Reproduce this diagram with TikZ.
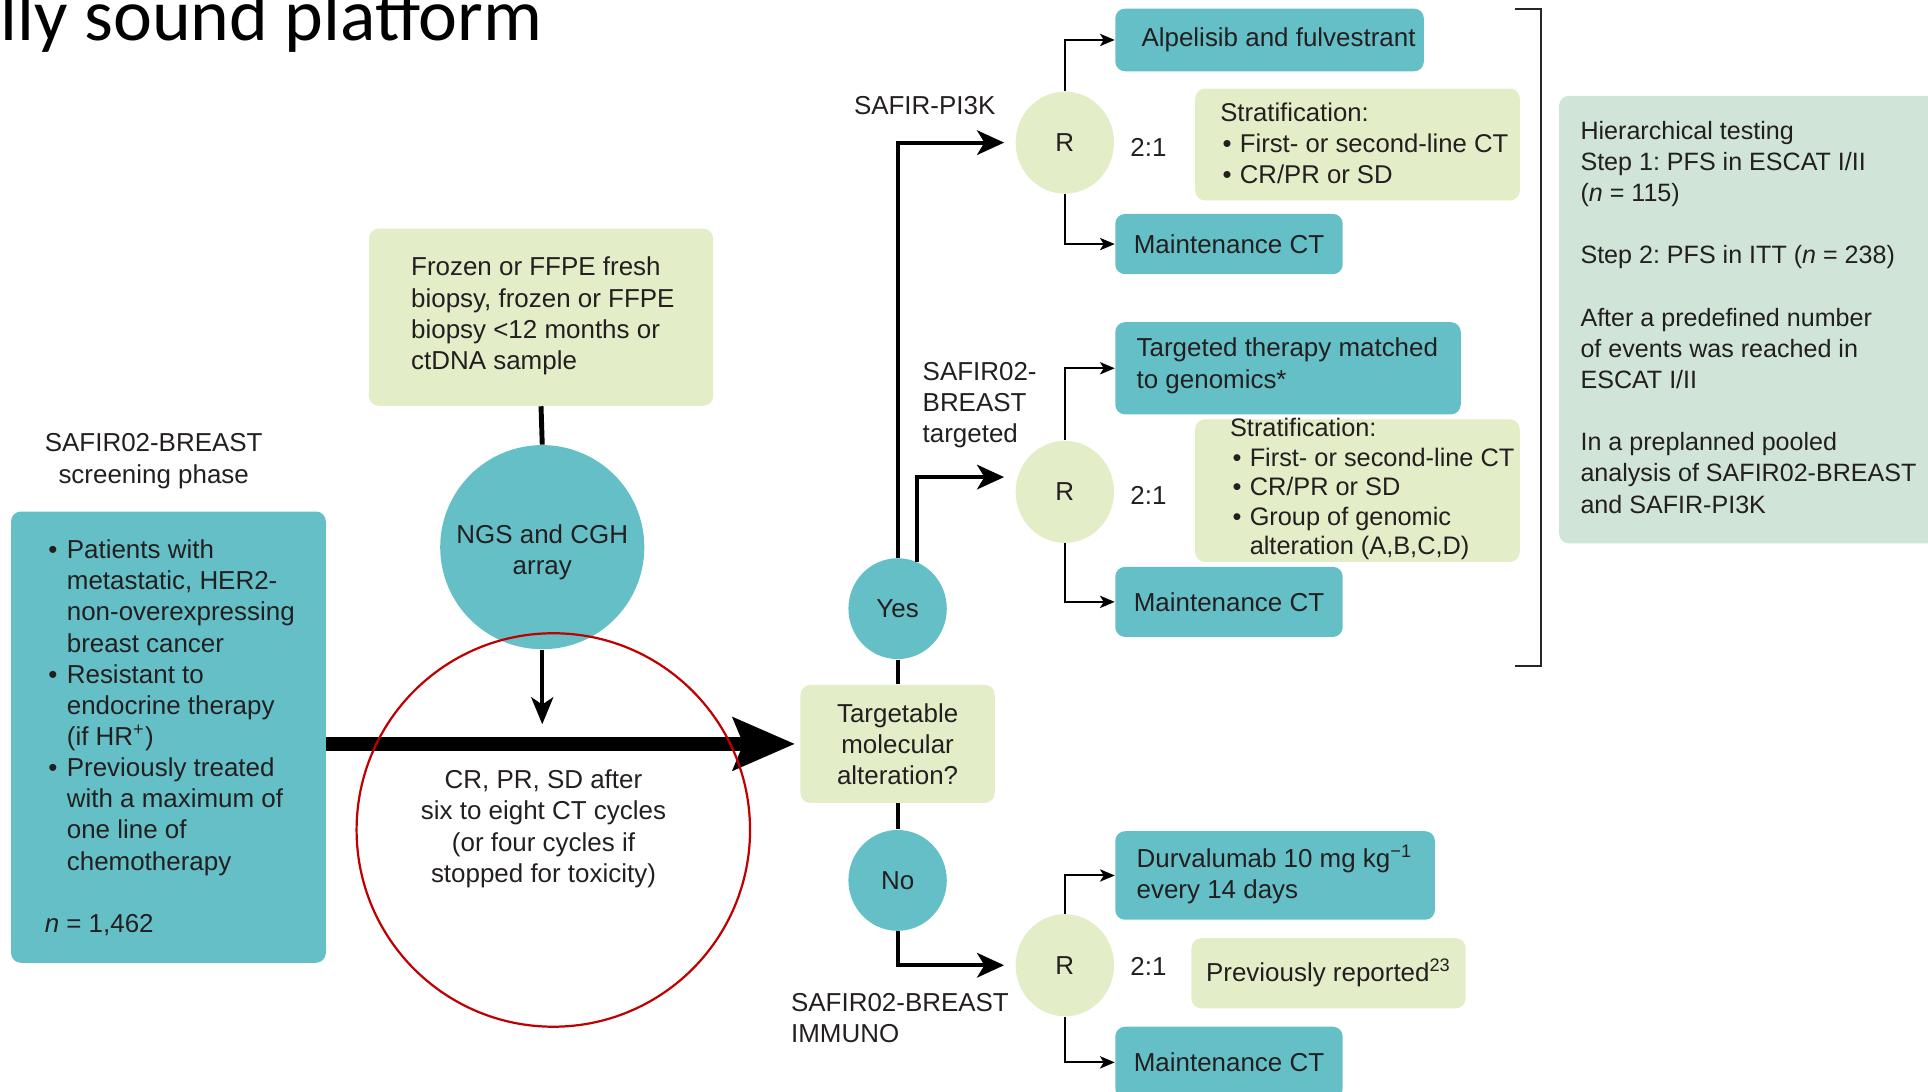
\documentclass[tikz,border=0pt]{standalone}
\usepackage{fontspec}
\setmainfont{Liberation Sans}
\newfontfamily\titlefont{Carlito}
\usetikzlibrary{arrows.meta,shapes.geometric,calc}
\definecolor{tealc}{RGB}{100,192,198}
\definecolor{palec}{RGB}{227,237,200}
\definecolor{mintc}{RGB}{208,228,215}
\definecolor{ringc}{RGB}{192,0,0}
\definecolor{ink}{RGB}{35,31,32}
\frenchspacing
\newcommand{\dfont}{\fontsize{10.55pt}{12.67pt}\selectfont}
\newcommand{\bl}{\makebox[9pt][l]{\hspace*{1.5pt}\textbullet}}
\newcommand{\sbl}{\makebox[8pt][l]{\hspace*{1pt}\textbullet}}
\newcommand{\ind}{\hspace*{9pt}}
\begin{document}
\begin{tikzpicture}[x=0.5pt,y=-0.5pt,
  tealbox/.style={fill=tealc, rounded corners=4pt, inner sep=0},
  palebox/.style={fill=palec, rounded corners=4pt, inner sep=0},
  mintbox/.style={fill=mintc, rounded corners=4pt, inner sep=0},
  tealround/.style={ellipse, fill=tealc, inner sep=0, font=\dfont, text=ink},
  rround/.style={ellipse, fill=palec, inner sep=0, minimum width=40pt, minimum height=41.5pt, font=\dfont, text=ink},
  txt/.style={inner sep=0, align=left, font=\dfont, text=ink},
  ctxt/.style={inner sep=0, align=center, font=\dfont, text=ink},
  stem/.style={line width=2pt, draw=black},
  feed/.style={line width=1.5pt, -{Stealth[length=11pt,width=9pt,inset=3pt]}},
  mainarrow/.style={line width=6pt, -{Stealth[length=25pt,width=21pt,inset=4pt]}},
  branch/.style={line width=1.6pt, -{Stealth[length=11pt,width=10pt,inset=3pt]}},
  leaf/.style={line width=0.8pt, -{Stealth[length=6pt,width=5pt,inset=1.5pt]}},
]
\useasboundingbox (0,0) rectangle (1568,888);

% title fragment (cut at the top edge, as in the reference)
\node[anchor=base west, inner sep=0, font=\titlefont\fontsize{30pt}{34pt}\selectfont] (title) at (0,33) {lly sound platform};

% screening phase
\node[ctxt] (screenlbl) at (125,375) {SAFIR02-BREAST\\screening phase};
\node[tealbox, minimum width=128pt, minimum height=183.5pt] (screen) at (137,599.5) {};
\node[txt, anchor=west] (screentxt) at (36,600) {\bl Patients with\\ \ind metastatic, HER2-\\ \ind non-overexpressing\\ \ind breast cancer\\ \bl Resistant to\\ \ind endocrine therapy\\ \ind (if HR\textsuperscript{+})\\ \bl Previously treated\\ \ind with a maximum of\\ \ind one line of\\ \ind chemotherapy\\[12.67pt] \textit{n} = 1,462};

% sample box and NGS
\node[palebox, minimum width=140pt, minimum height=72pt] (frozen) at (440,258) {};
\node[txt, anchor=west] (frozentxt) at (334,257) {Frozen or FFPE fresh\\biopsy, frozen or FFPE\\biopsy <12 months or\\ctDNA sample};
\node[circle, fill=tealc, minimum size=83pt, inner sep=0] (ngs) at (441,445) {};
\node[ctxt] (ngstxt) at (441,449.5) {NGS and CGH\\array};

% main flow
\node[palebox, minimum width=79pt, minimum height=48pt, ctxt] (targ) at (730,605) {Targetable\\molecular\\alteration?};
\node[ctxt] (crtxt) at (442,674) {CR, PR, SD after\\six to eight CT cycles\\(or four cycles if\\stopped for toxicity)};
\coordinate (join) at (441,599);

\node[tealround, minimum width=40pt, minimum height=41pt] (yes) at (730,495) {Yes};
\node[tealround, minimum width=40pt, minimum height=41pt] (no) at (730,716) {No};

% randomisation nodes
\node[rround] (r1) at (866,116) {R};
\node[rround] (r2) at (866,400) {R};
\node[rround] (r3) at (866,785) {R};
\node[ctxt] (q1) at (934,120) {2:1};
\node[ctxt] (q2) at (934,403) {2:1};
\node[ctxt] (q3) at (934,786) {2:1};

% trial labels
\node[ctxt] (pi3klbl) at (752,86) {SAFIR-PI3K};
\node[txt, anchor=west] (targlbl) at (750,329.5) {SAFIR02-\\BREAST\\targeted};
\node[txt, anchor=west] (immlbl) at (643,828) {SAFIR02-BREAST\\IMMUNO};

% SAFIR-PI3K arms
\node[tealbox, minimum width=125.5pt, minimum height=25.5pt] (alp) at (1032.5,32.5) {};
\node[txt, anchor=west] (alptxt) at (928,32.5) {Alpelisib and fulvestrant};
\node[palebox, minimum width=132pt, minimum height=45.5pt] (strat1) at (1104,117.5) {};
\node[txt, anchor=west, font=\fontsize{10.45pt}{12.67pt}\selectfont] (strat1txt) at (992,116.5) {Stratification:\\ \sbl First- or second-line CT\\ \sbl CR/PR or SD};
\node[tealbox, minimum width=92.5pt, minimum height=24.5pt, ctxt] (m1) at (999.5,198.5) {Maintenance CT};

% SAFIR02 targeted arms
\node[tealbox, minimum width=140.5pt, minimum height=37.5pt] (tgt) at (1047.5,299.5) {};
\node[txt, anchor=west] (tgttxt) at (924,297.5) {Targeted therapy matched\\to genomics*};
\node[palebox, minimum width=132pt, minimum height=58pt] (strat2) at (1104,399) {};
\node[txt, anchor=west, font=\fontsize{10.3pt}{12pt}\selectfont] (strat2txt) at (1000,398) {Stratification:\\ \sbl First- or second-line CT\\ \sbl CR/PR or SD\\ \sbl Group of genomic\\ \hspace*{8pt}alteration (A,B,C,D)};
\node[tealbox, minimum width=92.5pt, minimum height=28.5pt, ctxt] (m2) at (999.5,489.5) {Maintenance CT};

% IMMUNO arms
\node[tealbox, minimum width=130pt, minimum height=36pt] (durva) at (1037,712) {};
\node[txt, anchor=west] (durvatxt) at (924,711.5) {Durvalumab 10 mg kg\textsuperscript{−1}\\every 14 days};
\node[palebox, minimum width=111.5pt, minimum height=28.5pt, ctxt] (prev) at (1080.5,791.5) {Previously reported\textsuperscript{23}};
\node[tealbox, minimum width=92.5pt, minimum height=29pt, ctxt] (m3) at (999.5,864) {Maintenance CT};

% hierarchical testing
\node[mintbox, minimum width=156pt, minimum height=182pt] (hier) at (1424,260) {};
\node[txt, anchor=west, font=\fontsize{10.2pt}{12.67pt}\selectfont] (hiertxt) at (1285,258) {Hierarchical testing\\Step 1: PFS in ESCAT I/II\\(\textit{n} = 115)\\[12.67pt]Step 2: PFS in ITT (\textit{n} = 238)\\[12.67pt]After a predefined number\\of events was reached in\\ESCAT I/II\\[12.67pt]In a preplanned pooled\\analysis of SAFIR02-BREAST\\and SAFIR-PI3K};

% bracket
\coordinate (bt) at (1232,7);
\coordinate (bb) at (1232,542);
\draw[line width=0.8pt, draw=black!85] (bt) -- ++(21,0) |- (bb);

% connectors
\draw[stem] (frozen.south) -- (ngs.north);
\draw[feed] (ngs.south) -- ([yshift=5pt]join);
\draw[mainarrow, shorten >=2pt] (screen.east |- targ.west) -- (targ.west);
\draw[stem, line width=1.6pt] (targ.north) -- (yes.south);
\draw[stem, line width=1.6pt] (targ.south) -- (no.north);
\draw[branch, shorten >=4.5pt] (yes.north) |- (r1.west);
\draw[branch, shorten >=4.5pt] (yes.68) |- ($(r2.west)+(0,-12)$);
\draw[branch, shorten >=4.5pt] (no.south) |- (r3.west);
\draw[leaf] (r1.north) |- (alp.west);
\draw[leaf] (r1.south) |- (m1.west);
\draw[leaf] (r2.north) |- (tgt.west);
\draw[leaf] (r2.south) |- (m2.west);
\draw[leaf] (r3.north) |- (durva.west);
\draw[leaf] (r3.south) |- (m3.west);

% red annotation ring
\node[circle, draw=ringc, line width=0.9pt, minimum size=160pt, inner sep=0] (ring) at (450,675) {};
\end{tikzpicture}
\end{document}
